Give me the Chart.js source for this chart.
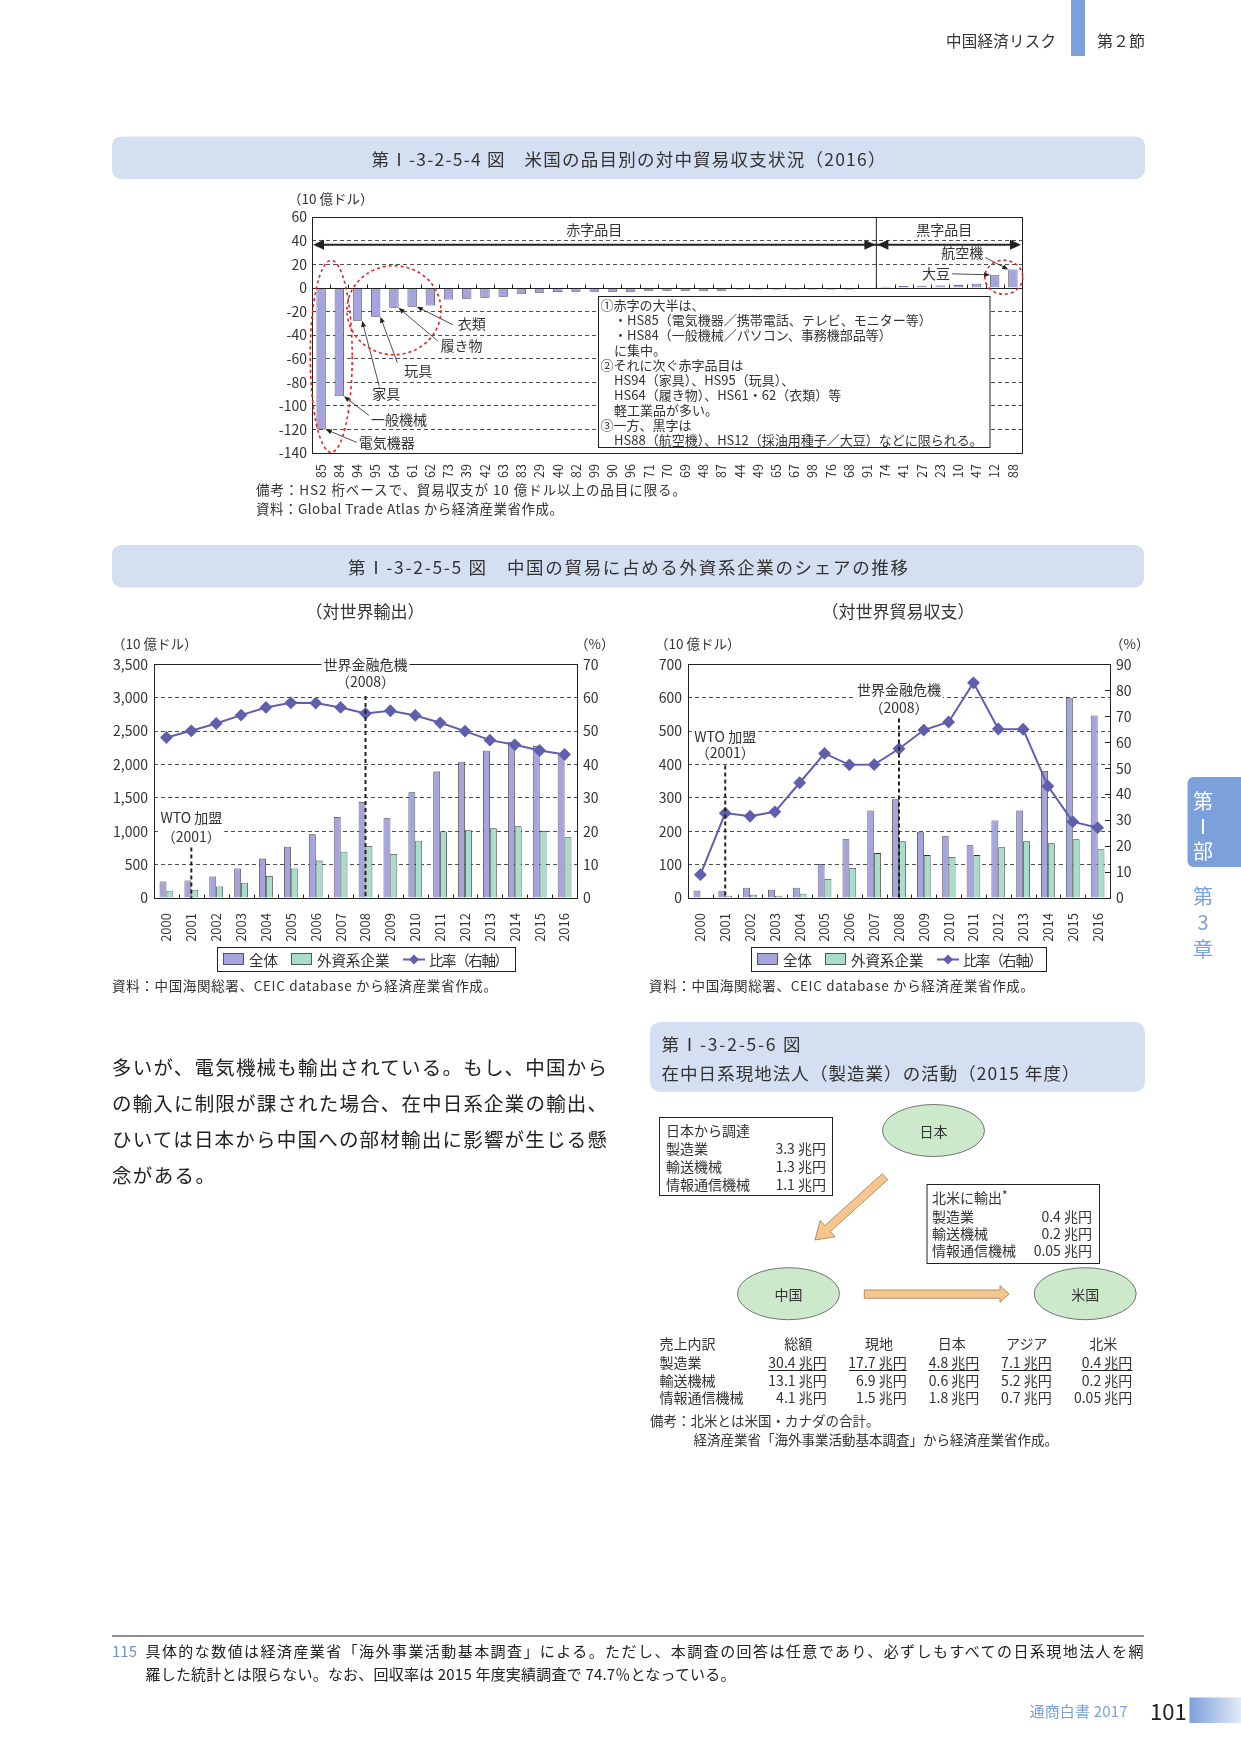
<!DOCTYPE html>
<html lang="ja">
<head>
<meta charset="utf-8">
<title>通商白書 2017 p.101</title>
<script src="https://cdn.jsdelivr.net/npm/chart.js@4.4.1/dist/chart.umd.min.js"></script>
<style>
  html, body { margin: 0; padding: 0; background: #fff; }
  #page { position: relative; width: 1241px; height: 1754px; overflow: hidden; background: #fff; }
  canvas { position: absolute; }
  #overlay { position: absolute; left: 0; top: 0; pointer-events: none; }
  #overlay text { dominant-baseline: central; }
</style>
</head>
<body>
<div id="page">
  <canvas id="itemChart" width="790" height="300" style="left:250px;top:190px"></canvas>
  <canvas id="exportChart" width="520" height="300" style="left:100px;top:650px"></canvas>
  <canvas id="balanceChart" width="520" height="300" style="left:640px;top:650px"></canvas>

  <svg id="overlay" width="1241" height="1754" viewBox="0 0 1241 1754" font-family='"Noto Sans CJK JP", "Noto Sans", sans-serif' fill="#333">
    <defs>
      <linearGradient id="tabGrad" x1="0" x2="1" y1="0" y2="0">
        <stop offset="0" stop-color="#7ba0db"/>
        <stop offset="1" stop-color="#e3ebf8"/>
      </linearGradient>
    </defs>

    <!-- ヘッダー -->
    <text x="946" y="40" font-size="15.5" textLength="110">中国経済リスク</text>
    <rect x="1071" y="0" width="14" height="56" fill="#7ba0db"/>
    <text x="1097" y="40" font-size="16">第２節</text>

    <!-- 第I-3-2-5-4図 -->
    <rect x="112" y="136.5" width="1033" height="42.5" rx="9" fill="#d5dff2"/>
    <text x="628.5" y="158" font-size="17.5" text-anchor="middle" textLength="514">第Ⅰ-3-2-5-4 図　米国の品目別の対中貿易収支状況（2016）</text>
    <text x="288" y="198" font-size="13.5">（10 億ドル）</text>
    <rect x="598.5" y="296.5" width="391.5" height="151" fill="#fff" stroke="#222"/>
    <g font-size="13">
      <text x="600.5" y="304">①赤字の大半は、</text>
      <text x="614" y="319">・HS85（電気機器／携帯電話、テレビ、モニター等）</text>
      <text x="614" y="334">・HS84（一般機械／パソコン、事務機部品等）</text>
      <text x="614" y="349">に集中。</text>
      <text x="600.5" y="364">②それに次ぐ赤字品目は</text>
      <text x="614" y="379">HS94（家具）、HS95（玩具）、</text>
      <text x="614" y="394">HS64（履き物）、HS61・62（衣類）等</text>
      <text x="614" y="409">軽工業品が多い。</text>
      <text x="600.5" y="424">③一方、黒字は</text>
      <text x="614" y="439">HS88（航空機）、HS12（採油用種子／大豆）などに限られる。</text>
    </g>
    <text x="256" y="489" font-size="13.5" textLength="430">備考：HS2 桁ベースで、貿易収支が 10 億ドル以上の品目に限る。</text>
    <text x="256" y="508" font-size="13.5" textLength="307">資料：Global Trade Atlas から経済産業省作成。</text>

    <!-- 第I-3-2-5-5図 -->
    <rect x="112" y="545" width="1032" height="42.5" rx="9" fill="#d5dff2"/>
    <text x="628" y="566" font-size="17.5" text-anchor="middle" textLength="560">第Ⅰ-3-2-5-5 図　中国の貿易に占める外資系企業のシェアの推移</text>

    <text x="365" y="610" font-size="17" text-anchor="middle">（対世界輸出）</text>
    <text x="112" y="643" font-size="13.5">（10 億ドル）</text>
    <text x="575" y="643" font-size="13.5">（%）</text>
    <rect x="217.5" y="947.5" width="298" height="24" fill="#fff" stroke="#222"/>
    <rect x="223.5" y="953.5" width="20" height="11" fill="#a6a4dc" stroke="#333" stroke-width="0.8"/>
    <text x="249" y="959.5" font-size="14.5">全体</text>
    <rect x="291.5" y="953.5" width="20" height="11" fill="#a7ddc9" stroke="#333" stroke-width="0.8"/>
    <text x="317" y="959.5" font-size="14.5">外資系企業</text>
    <line x1="403" y1="959.5" x2="425" y2="959.5" stroke="#5f5fae" stroke-width="2"/>
    <polygon points="414,954.5 419,959.5 414,964.5 409,959.5" fill="#5f5fae"/>
    <text x="429" y="959.5" font-size="14.5" textLength="80">比率（右軸）</text>
    <text x="112" y="985" font-size="13.5" textLength="385">資料：中国海関総署、CEIC database から経済産業省作成。</text>

    <text x="898" y="610" font-size="17" text-anchor="middle">（対世界貿易収支）</text>
    <text x="655" y="643" font-size="13.5">（10 億ドル）</text>
    <text x="1110" y="643" font-size="13.5">（%）</text>
    <rect x="751.5" y="947.5" width="295" height="24" fill="#fff" stroke="#222"/>
    <rect x="757.5" y="953.5" width="20" height="11" fill="#a6a4dc" stroke="#333" stroke-width="0.8"/>
    <text x="783" y="959.5" font-size="14.5">全体</text>
    <rect x="825.5" y="953.5" width="20" height="11" fill="#a7ddc9" stroke="#333" stroke-width="0.8"/>
    <text x="851" y="959.5" font-size="14.5">外資系企業</text>
    <line x1="937" y1="959.5" x2="959" y2="959.5" stroke="#5f5fae" stroke-width="2"/>
    <polygon points="948,954.5 953,959.5 948,964.5 943,959.5" fill="#5f5fae"/>
    <text x="963" y="959.5" font-size="14.5" textLength="80">比率（右軸）</text>
    <text x="649" y="985" font-size="13.5" textLength="385">資料：中国海関総署、CEIC database から経済産業省作成。</text>

    <!-- 本文 -->
    <g font-size="19.5" fill="#222">
      <text x="112" y="1066.5" textLength="495">多いが、電気機械も輸出されている。もし、中国から</text>
      <text x="112" y="1102" textLength="495">の輸入に制限が課された場合、在中日系企業の輸出、</text>
      <text x="112" y="1138" textLength="495">ひいては日本から中国への部材輸出に影響が生じる懸</text>
      <text x="112" y="1174" textLength="103">念がある。</text>
    </g>

    <!-- 第I-3-2-5-6図 -->
    <rect x="650" y="1022" width="495" height="70" rx="10" fill="#d5dff2"/>
    <text x="661.5" y="1043" font-size="17.5" textLength="139">第Ⅰ-3-2-5-6 図</text>
    <text x="661.5" y="1072" font-size="17.5" textLength="418">在中日系現地法人（製造業）の活動（2015 年度）</text>

    <g font-size="14">
      <rect x="659.5" y="1117.5" width="173" height="78" fill="none" stroke="#222"/>
      <text x="666" y="1129.5">日本から調達</text>
      <text x="666" y="1147.5">製造業</text><text x="826" y="1147.5" text-anchor="end">3.3 兆円</text>
      <text x="666" y="1165.5">輸送機械</text><text x="826" y="1165.5" text-anchor="end">1.3 兆円</text>
      <text x="666" y="1183.5">情報通信機械</text><text x="826" y="1183.5" text-anchor="end">1.1 兆円</text>

      <ellipse cx="933.5" cy="1130.5" rx="51" ry="26" fill="#cde9cb" stroke="#555" stroke-width="0.8"/>
      <text x="933.5" y="1130.5" text-anchor="middle">日本</text>

      <polygon points="882.3,1173.7 824.9,1225.6 820.2,1220.4 815,1240 835,1236.8 830.3,1231.6 887.7,1179.7" fill="#f7c68f" stroke="#9d7a50" stroke-width="0.8"/>

      <rect x="927" y="1184.5" width="172.5" height="79" fill="none" stroke="#222"/>
      <text x="932" y="1196.5">北米に輸出<tspan font-size="12" dy="-3">*</tspan></text>
      <text x="932" y="1215.5">製造業</text><text x="1092" y="1215.5" text-anchor="end">0.4 兆円</text>
      <text x="932" y="1232.5">輸送機械</text><text x="1092" y="1232.5" text-anchor="end">0.2 兆円</text>
      <text x="932" y="1250">情報通信機械</text><text x="1092" y="1250" text-anchor="end">0.05 兆円</text>

      <ellipse cx="788.5" cy="1293.7" rx="51" ry="26" fill="#cde9cb" stroke="#555" stroke-width="0.8"/>
      <text x="788.5" y="1293.7" text-anchor="middle">中国</text>
      <polygon points="864.3,1290 1000,1290 1000,1285.7 1009,1294 1000,1302.3 1000,1298.3 864.3,1298.3" fill="#f7c68f" stroke="#9d7a50" stroke-width="0.8"/>
      <ellipse cx="1085.2" cy="1293.7" rx="51" ry="26" fill="#cde9cb" stroke="#555" stroke-width="0.8"/>
      <text x="1085.2" y="1293.7" text-anchor="middle">米国</text>

      <text x="659.5" y="1342.5">売上内訳</text>
      <text x="798.3" y="1342.5" text-anchor="middle">総額</text>
      <text x="879" y="1342.5" text-anchor="middle">現地</text>
      <text x="951.7" y="1342.5" text-anchor="middle">日本</text>
      <text x="1026.7" y="1342.5" text-anchor="middle">アジア</text>
      <text x="1103.3" y="1342.5" text-anchor="middle">北米</text>

      <text x="659.5" y="1361.5">製造業</text>
      <text x="826.7" y="1361.5" text-anchor="end">30.4 兆円</text>
      <text x="906.7" y="1361.5" text-anchor="end">17.7 兆円</text>
      <text x="979.3" y="1361.5" text-anchor="end">4.8 兆円</text>
      <text x="1051.7" y="1361.5" text-anchor="end">7.1 兆円</text>
      <text x="1132.3" y="1361.5" text-anchor="end">0.4 兆円</text>
      <g stroke="#222" stroke-width="1">
        <line x1="768.3" y1="1370.5" x2="826.7" y2="1370.5"/>
        <line x1="849" y1="1370.5" x2="906.7" y2="1370.5"/>
        <line x1="928.3" y1="1370.5" x2="979.3" y2="1370.5"/>
        <line x1="1001.7" y1="1370.5" x2="1051.7" y2="1370.5"/>
        <line x1="1081.7" y1="1370.5" x2="1132.3" y2="1370.5"/>
      </g>
      <text x="659.5" y="1379.5">輸送機械</text>
      <text x="826.7" y="1379.5" text-anchor="end">13.1 兆円</text>
      <text x="906.7" y="1379.5" text-anchor="end">6.9 兆円</text>
      <text x="979.3" y="1379.5" text-anchor="end">0.6 兆円</text>
      <text x="1051.7" y="1379.5" text-anchor="end">5.2 兆円</text>
      <text x="1132.3" y="1379.5" text-anchor="end">0.2 兆円</text>
      <text x="659.5" y="1397">情報通信機械</text>
      <text x="826.7" y="1397" text-anchor="end">4.1 兆円</text>
      <text x="906.7" y="1397" text-anchor="end">1.5 兆円</text>
      <text x="979.3" y="1397" text-anchor="end">1.8 兆円</text>
      <text x="1051.7" y="1397" text-anchor="end">0.7 兆円</text>
      <text x="1132.3" y="1397" text-anchor="end">0.05 兆円</text>
    </g>
    <text x="650" y="1420" font-size="13.5">備考：北米とは米国・カナダの合計。</text>
    <text x="693.5" y="1438.5" font-size="13.5">経済産業省「海外事業活動基本調査」から経済産業省作成。</text>

    <!-- 見出しタブ -->
    <rect x="1187.5" y="777" width="70" height="90" rx="6" fill="#7ba0db"/>
    <g font-size="20" text-anchor="middle">
      <text x="1203" y="800" fill="#fff">第</text>
      <text x="1203" y="825" fill="#fff">Ⅰ</text>
      <text x="1203" y="850" fill="#fff">部</text>
      <text x="1203" y="895" fill="#7ba0db">第</text>
      <text x="1203" y="921.5" fill="#7ba0db">3</text>
      <text x="1203" y="948" fill="#7ba0db">章</text>
    </g>

    <!-- 脚注 -->
    <line x1="112" y1="1636" x2="1144" y2="1636" stroke="#222" stroke-width="1.2"/>
    <text x="112" y="1650" font-size="15" fill="#6b93d6">115</text>
    <text x="145.5" y="1650" font-size="15" fill="#222" textLength="998">具体的な数値は経済産業省「海外事業活動基本調査」による。ただし、本調査の回答は任意であり、必ずしもすべての日系現地法人を網</text>
    <text x="145.5" y="1673" font-size="15" fill="#222" textLength="590">羅した統計とは限らない。なお、回収率は 2015 年度実績調査で 74.7％となっている。</text>

    <text x="1029.5" y="1710" font-size="15" fill="#7ba0db" textLength="98">通商白書 2017</text>
    <text x="1150" y="1710" font-size="22" fill="#222">101</text>
    <rect x="1189.5" y="1697.5" width="52" height="25.5" fill="url(#tabGrad)"/>
  </svg>
</div>

<script>
// 第I-3-2-5-4図: 米国の品目別の対中貿易収支（HS2桁、10億ドル）
const hsCodes = ['85', '84', '94', '95', '64', '61', '62', '73', '39', '42',
                 '63', '83', '29', '40', '82', '99', '90', '96', '71', '70',
                 '69', '48', '87', '44', '49', '65', '67', '98', '76', '68',
                 '91', '74', '41', '27', '23', '10', '47', '12', '88'];
const usBalance = [-120, -92, -28, -24.5, -17, -16, -15, -10, -9.3, -8.5,
                   -7.6, -5, -4.2, -3.5, -3.3, -3.3, -3.3, -3.3, -2.5, -2.5,
                   -2.5, -2.5, -2.5, -1.5, -1.5, -1.5, -1.5, -1.5, -1.5, -1.5,
                   -0.5, 0.8, 1.5, 1.7, 2, 2.5, 3.5, 11, 15.5];
const surplusFrom = 31; // ここから黒字品目

// 第I-3-2-5-5図: 中国の貿易に占める外資系企業のシェア
const years = ['2000', '2001', '2002', '2003', '2004', '2005', '2006', '2007', '2008',
               '2009', '2010', '2011', '2012', '2013', '2014', '2015', '2016'];
// 対世界輸出（10億ドル、%）
const exportTotal = [248, 263, 322, 441, 590, 768, 957, 1215, 1438, 1195, 1586, 1894, 2042, 2206, 2340, 2280, 2137];
const exportForeign = [109, 124, 173, 228, 332, 441, 560, 694, 778, 659, 858, 996, 1016, 1046, 1076, 1006, 912];
const exportShare = [48.1, 50.1, 52.3, 54.8, 57.1, 58.5, 58.4, 57.1, 55.3, 56.1, 54.7, 52.5, 50.0, 47.3, 45.9, 44.2, 43.0];
// 対世界貿易収支（10億ドル、%）
const balanceTotal = [22, 22, 30.7, 24.7, 30.7, 102, 176, 262, 297.7, 198.8, 185, 158, 232.4, 262, 380.8, 600.4, 547];
const balanceForeign = [2, 7, 10, 7, 13, 57, 90, 134.5, 170, 128.6, 122.7, 128.6, 152.3, 170, 164, 176, 146.4];
const balanceShare = [9, 32.7, 31.5, 33.2, 44.4, 55.7, 51.3, 51.4, 57.5, 64.7, 67.8, 82.9, 65.1, 65, 43.1, 29.4, 27.1];

const FONT = '"Noto Sans CJK JP", "Noto Sans", sans-serif';
Chart.defaults.font.family = FONT;
Chart.defaults.color = '#333';

const PURPLE = '#a6a4dc';
const GREEN = '#a7ddc9';
const LINE = '#5f5fae';
const INK = '#222';

// 指定した目盛りだけ補助線を消す
const hideAt = values => c => (c.tick && values.includes(c.tick.value)) ? 'rgba(0,0,0,0)' : INK;

function stroke(ctx, x1, y1, x2, y2) {
    ctx.beginPath();
    ctx.moveTo(x1, y1);
    ctx.lineTo(x2, y2);
    ctx.stroke();
}

function head(ctx, x, y, ux, uy, len, half) {
    const bx = x - ux * len, by = y - uy * len;
    ctx.beginPath();
    ctx.moveTo(x, y);
    ctx.lineTo(bx - uy * half, by + ux * half);
    ctx.lineTo(bx + uy * half, by - ux * half);
    ctx.closePath();
    ctx.fill();
}

function pointer(ctx, x1, y1, x2, y2) {
    const d = Math.hypot(x2 - x1, y2 - y1);
    const ux = (x2 - x1) / d, uy = (y2 - y1) / d;
    stroke(ctx, x1, y1, x2 - ux * 4, y2 - uy * 4);
    head(ctx, x2, y2, ux, uy, 6, 2.5);
}

// 枠線と基準線の目盛り
const frame = {
    id: 'frame',
    afterDatasetsDraw(chart, args, opts) {
        const { ctx, chartArea: a, scales } = chart;
        const x = scales.x;
        const base = Math.round(scales.y.getPixelForValue(opts.base || 0)) + 0.5;
        const step = x.getPixelForValue(1) - x.getPixelForValue(0);
        ctx.save();
        ctx.strokeStyle = INK;
        ctx.lineWidth = 1;
        ctx.strokeRect(Math.round(a.left) + 0.5, Math.round(a.top) + 0.5, Math.round(a.width), Math.round(a.height));
        ctx.beginPath();
        ctx.moveTo(a.left, base);
        ctx.lineTo(a.right, base);
        for (let i = 1; i < chart.data.labels.length; i++) {
            const px = Math.round(x.getPixelForValue(i) - step / 2) + 0.5;
            ctx.moveTo(px, base);
            ctx.lineTo(px, base - 4);
        }
        if (opts.rightTicks && scales.y2) {
            scales.y2.ticks.forEach(t => {
                const py = Math.round(scales.y2.getPixelForValue(t.value)) + 0.5;
                ctx.moveTo(a.right - 5, py);
                ctx.lineTo(a.right, py);
            });
        }
        ctx.stroke();
        ctx.restore();
    }
};

// WTO加盟・世界金融危機の注記
const events = {
    id: 'events',
    afterDatasetsDraw(chart, args, opts) {
        const { ctx, chartArea: a, scales: { x, y } } = chart;
        ctx.save();
        ctx.font = '14px ' + FONT;
        ctx.textAlign = 'center';
        ctx.textBaseline = 'middle';
        (opts.items || []).forEach(ev => {
            const cx = x.getPixelForValue(ev.idx);
            const ys = ev.at.map(v => y.getPixelForValue(v));
            const w = Math.max(...ev.lines.map(s => ctx.measureText(s).width)) + 4;
            ctx.fillStyle = '#fff';
            ctx.fillRect(cx - w / 2, ys[0] - 9, w, ys[1] - ys[0] + 18);
            ctx.fillStyle = '#333';
            ev.lines.forEach((s, k) => ctx.fillText(s, cx, ys[k]));
            ctx.strokeStyle = INK;
            ctx.lineWidth = 2;
            ctx.setLineDash([4, 3]);
            stroke(ctx, cx, y.getPixelForValue(ev.from), cx, a.bottom);
            ctx.setLineDash([]);
        });
        ctx.restore();
    }
};

// 赤字/黒字の矢印、品目の吹き出し、赤い点線の丸
const itemNotes = {
    id: 'itemNotes',
    afterDatasetsDraw(chart) {
        const { ctx, chartArea: a, scales: { x, y } } = chart;
        const bars = chart.getDatasetMeta(0).data;
        const half = bars[0].width / 2;
        const split = (x.getPixelForValue(surplusFrom - 1) + x.getPixelForValue(surplusFrom)) / 2;
        const ya = y.getPixelForValue(36.5);

        ctx.save();
        ctx.strokeStyle = INK;
        ctx.fillStyle = INK;
        ctx.lineWidth = 1;
        stroke(ctx, split, a.top, split, y.getPixelForValue(0));
        ctx.lineWidth = 2;
        stroke(ctx, a.left + 6, ya, a.right - 6, ya);
        head(ctx, a.left + 1, ya, -1, 0, 11, 5);
        head(ctx, split - 1, ya, 1, 0, 11, 5);
        head(ctx, split + 1, ya, -1, 0, 11, 5);
        head(ctx, a.right - 1, ya, 1, 0, 11, 5);

        ctx.font = '14px ' + FONT;
        ctx.textBaseline = 'middle';
        ctx.textAlign = 'center';
        ctx.fillStyle = '#333';
        ctx.fillText('赤字品目', (a.left + split) / 2, y.getPixelForValue(49.5));
        ctx.fillText('黒字品目', (split + a.right) / 2 - 5, y.getPixelForValue(49.5));

        const notes = [
            { i: 0, text: '電気機器', tx: 33, ty: 13, ax: 31, ay: 13 },
            { i: 1, text: '一般機械', tx: 27, ty: 23, ax: 25, ay: 19 },
            { i: 2, text: '家具', tx: 10, ty: 73, ax: 17, ay: 65 },
            { i: 3, text: '玩具', tx: 24, ty: 54, ax: 17, ay: 46 },
            { i: 4, text: '履き物', tx: 42, ty: 38, ax: 39, ay: 33 },
            { i: 5, text: '衣類', tx: 41, ty: 17, ax: 36, ay: 18 },
            { i: 38, text: '航空機', tx: -25, ty: -17, ax: -23, ay: -12 },
            { i: 37, text: '大豆', tx: -40, ty: -1, ax: -38, ay: -1 }
        ];
        ctx.lineWidth = 0.8;
        notes.forEach(n => {
            const bar = bars[n.i];
            const tipX = n.tx < 0 ? bar.x - half : bar.x + half;
            const tipY = bar.y;
            ctx.fillStyle = INK;
            pointer(ctx, tipX + n.ax, tipY + n.ay, tipX, tipY);
            ctx.fillStyle = '#333';
            ctx.textAlign = n.tx < 0 ? 'right' : 'left';
            ctx.fillText(n.text, tipX + n.tx, tipY + n.ty);
        });

        ctx.strokeStyle = '#e42326';
        ctx.lineWidth = 1.6;
        ctx.setLineDash([3, 3]);
        [
            [(x.getPixelForValue(0) + x.getPixelForValue(1)) / 2 + 1, y.getPixelForValue(-58), 21, 96],
            [(x.getPixelForValue(2) + x.getPixelForValue(6)) / 2, y.getPixelForValue(-19), 47, 44.5],
            [(x.getPixelForValue(37) + x.getPixelForValue(38)) / 2, y.getPixelForValue(9), 19, 17]
        ].forEach(([cx, cy, rx, ry]) => {
            ctx.beginPath();
            ctx.ellipse(cx, cy, rx, ry, 0, 0, Math.PI * 2);
            ctx.stroke();
        });
        ctx.restore();
    }
};

new Chart(document.getElementById('itemChart'), {
    type: 'bar',
    data: {
        labels: hsCodes,
        datasets: [{
            data: usBalance,
            backgroundColor: PURPLE,
            borderColor: '#3a3a55',
            borderWidth: 0.8,
            barPercentage: 0.51,
            categoryPercentage: 1
        }]
    },
    options: {
        responsive: false,
        animation: false,
        devicePixelRatio: 1,
        layout: { padding: { top: 27, right: 18 } },
        plugins: { legend: { display: false }, tooltip: { enabled: false }, frame: { base: 0 } },
        scales: {
            x: {
                grid: { display: false },
                border: { display: false },
                ticks: { font: { size: 12.5 }, minRotation: 90, maxRotation: 90, autoSkip: false, padding: 3 },
                afterFit: s => { s.height = 37; }
            },
            y: {
                min: -140,
                max: 60,
                ticks: { stepSize: 20, font: { size: 14 }, padding: 5 },
                grid: { color: hideAt([60, 0, -140]), drawTicks: false, lineWidth: 0.8 },
                border: { display: false, dash: [4, 3] },
                afterFit: s => { s.width = 62; }
            }
        }
    },
    plugins: [frame, itemNotes]
});

function tradeChart(id, total, foreign, share, yMax, yStep, y2Max, axisW, items, rightTicks) {
    return new Chart(document.getElementById(id), {
        type: 'bar',
        data: {
            labels: years,
            datasets: [
                {
                    type: 'line', label: '比率（右軸）', data: share, yAxisID: 'y2',
                    borderColor: LINE, backgroundColor: LINE, borderWidth: 2, tension: 0,
                    pointStyle: 'rectRot', pointRadius: 5, pointBackgroundColor: LINE, pointBorderColor: LINE,
                    order: 0
                },
                { label: '全体', data: total, backgroundColor: PURPLE, borderColor: '#333', borderWidth: 0.8, categoryPercentage: 0.55, barPercentage: 1, order: 1 },
                { label: '外資系企業', data: foreign, backgroundColor: GREEN, borderColor: '#333', borderWidth: 0.8, categoryPercentage: 0.55, barPercentage: 1, order: 1 }
            ]
        },
        options: {
            responsive: false,
            animation: false,
            devicePixelRatio: 1,
            layout: { padding: { top: 12 } },
            plugins: {
                legend: { display: false },
                tooltip: { enabled: false },
                frame: { rightTicks: rightTicks },
                events: { items: items }
            },
            scales: {
                x: {
                    grid: { display: false },
                    border: { display: false },
                    ticks: { font: { size: 13 }, minRotation: 90, maxRotation: 90, autoSkip: false, padding: 7 },
                    afterFit: s => { s.height = 52; }
                },
                y: {
                    min: 0,
                    max: yMax,
                    ticks: { stepSize: yStep, font: { size: 14 }, padding: 6, callback: v => v.toLocaleString('en-US') },
                    grid: { color: hideAt([0, yMax]), drawTicks: false, lineWidth: 0.8 },
                    border: { display: false, dash: [4, 3] },
                    afterFit: s => { s.width = axisW[0]; }
                },
                y2: {
                    position: 'right',
                    min: 0,
                    max: y2Max,
                    ticks: { stepSize: 10, font: { size: 14 }, padding: 6 },
                    grid: { display: false, drawTicks: false },
                    border: { display: false },
                    afterFit: s => { s.width = axisW[1]; }
                }
            }
        },
        plugins: [frame, events]
    });
}

tradeChart('exportChart', exportTotal, exportForeign, exportShare, 3500, 500, 70, [54, 43], [
    { idx: 1, lines: ['WTO 加盟', '（2001）'], at: [1200, 922], from: 758 },
    { idx: 8, lines: ['世界金融危機', '（2008）'], at: [3500, 3238], from: 3025 }
], false);

tradeChart('balanceChart', balanceTotal, balanceForeign, balanceShare, 700, 100, 90, [48, 50], [
    { idx: 1, lines: ['WTO 加盟', '（2001）'], at: [484, 434], from: 397 },
    { idx: 8, lines: ['世界金融危機', '（2008）'], at: [625.6, 570], from: 538 }
], true);
</script>
</body>
</html>
